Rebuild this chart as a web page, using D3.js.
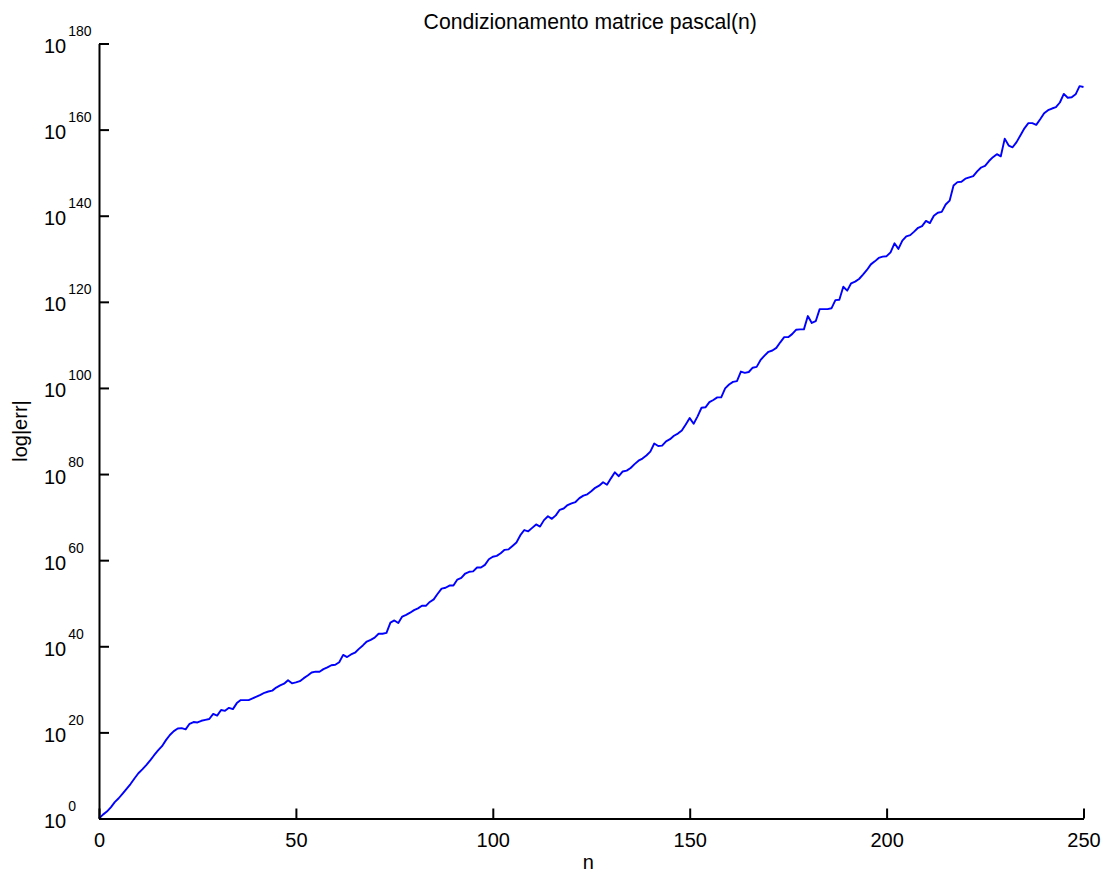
<!DOCTYPE html>
<html>
<head>
<meta charset="utf-8">
<script src="https://cdn.jsdelivr.net/npm/d3@7"></script>
<style>
  html, body { margin: 0; padding: 0; background: #fff; }
  svg { display: block; font-family: "Liberation Sans", Arial, sans-serif; }
</style>
</head>
<body>
<svg id="chart" width="1106" height="874"></svg>
<script>
// Matrix order n (0..250) and log10 of the condition number of pascal(n+1)
const orders = d3.range(0, 251);
const log10Cond = [
  0.0, 0.9, 1.6, 2.6, 3.8, 4.7, 5.8, 6.9, 8.0, 9.3,
  10.5, 11.4, 12.4, 13.5, 14.7, 15.8, 16.8, 18.2, 19.4, 20.3,
  20.9, 21.0, 20.7, 22.0, 22.4, 22.3, 22.7, 22.9, 23.1, 24.3,
  23.9, 25.2, 25.0, 25.7, 25.4, 26.8, 27.5, 27.5, 27.5, 27.9,
  28.3, 28.7, 29.2, 29.5, 29.7, 30.4, 30.9, 31.3, 32.1, 31.4,
  31.6, 31.9, 32.6, 33.2, 33.9, 34.1, 34.1, 34.7, 35.1, 35.6,
  35.7, 36.3, 38.0, 37.5, 38.1, 38.5, 39.4, 40.2, 41.1, 41.5,
  42.0, 42.9, 42.9, 43.1, 45.5, 46.0, 45.4, 46.9, 47.3, 47.8,
  48.4, 48.8, 49.4, 49.4, 50.3, 50.9, 52.2, 53.4, 53.6, 54.1,
  54.1, 55.5, 55.9, 56.9, 57.3, 57.4, 58.3, 58.3, 58.9, 60.2,
  60.8, 61.0, 61.6, 62.4, 62.5, 63.3, 64.1, 65.8, 67.0, 66.7,
  67.5, 68.3, 67.8, 69.3, 70.2, 69.6, 70.4, 71.7, 72.0, 72.8,
  73.2, 73.5, 74.4, 75.0, 75.3, 76.0, 76.8, 77.3, 78.1, 77.5,
  79.0, 80.4, 79.5, 80.6, 80.8, 81.4, 82.3, 83.1, 83.6, 84.3,
  85.2, 87.1, 86.5, 86.6, 87.6, 88.1, 88.9, 89.4, 90.1, 91.5,
  93.0, 91.7, 93.4, 95.4, 95.5, 96.7, 97.2, 97.8, 97.8, 99.9,
  100.8, 101.4, 101.6, 103.8, 103.5, 103.7, 104.7, 104.9, 106.5, 107.5,
  108.4, 108.7, 109.3, 110.6, 111.8, 111.8, 112.5, 113.5, 113.6, 113.6,
  116.7, 115.1, 115.5, 118.3, 118.3, 118.3, 118.5, 120.4, 120.5, 123.5,
  122.6, 124.3, 124.7, 125.3, 126.3, 127.4, 128.7, 129.4, 130.2, 130.5,
  130.6, 131.5, 133.6, 132.3, 134.2, 135.2, 135.5, 136.3, 137.2, 137.6,
  138.8, 138.3, 140.0, 140.7, 140.9, 142.6, 143.5, 147.0, 147.8, 147.9,
  148.6, 148.9, 149.2, 150.3, 151.2, 151.6, 152.7, 153.6, 154.3, 153.8,
  157.9, 156.3, 155.9, 157.1, 158.7, 160.3, 161.5, 161.5, 161.1, 162.4,
  163.8, 164.5, 164.9, 165.2, 166.3, 168.3, 167.4, 167.5, 168.2, 170.1,
  169.9
];
const xTicks = [0, 50, 100, 150, 200, 250];
const yTickExponents = [0, 20, 40, 60, 80, 100, 120, 140, 160, 180];

const titleText = "Condizionamento matrice pascal(n)";
const xLabelText = "n";
const yLabelText = "log|err|";

const svg = d3.select("#chart");
const plotLeft = 99, plotRight = 1083.5, plotTop = 43.5, plotBottom = 818.5;

const x = d3.scaleLinear().domain([0, 250]).range([plotLeft, plotRight]);
const y = d3.scaleLog().domain([1e0, 1e180]).range([plotBottom, plotTop]);

const points = orders.map((n, i) => ({ n, c: Math.pow(10, log10Cond[i]) }));

// Curve
svg.append("path")
  .datum(points)
  .attr("fill", "none")
  .attr("stroke", "#0000ff")
  .attr("stroke-width", 1.9)
  .attr("stroke-linejoin", "round")
  .attr("d", d3.line().x(d => x(d.n)).y(d => y(d.c)));

// X axis: ticks pointing up into the plot
const xAxis = svg.append("g")
  .attr("transform", `translate(0,${plotBottom})`)
  .call(d3.axisBottom(x).tickValues(xTicks).tickSizeInner(-10).tickSizeOuter(0).tickPadding(14));
xAxis.select(".domain").attr("stroke", "#000").attr("stroke-width", 2);
xAxis.selectAll(".tick line").attr("stroke", "#000").attr("stroke-width", 2);
xAxis.selectAll(".tick text")
  .attr("font-size", 20)
  .attr("font-family", "Liberation Sans, Arial, sans-serif")
  .attr("fill", "#000");

// Y axis: ticks pointing right into the plot, labels as powers of ten
const yTickVals = yTickExponents.map(e => Math.pow(10, e));
const yAxis = svg.append("g")
  .attr("transform", `translate(${plotLeft},0)`)
  .call(d3.axisRight(y).tickValues(yTickVals).tickSizeInner(10).tickSizeOuter(0).tickFormat(""));
yAxis.select(".domain").attr("stroke", "#000").attr("stroke-width", 2);
yAxis.selectAll(".tick line").attr("stroke", "#000").attr("stroke-width", 2);

const yLabels = svg.append("g")
  .attr("font-family", "Liberation Sans, Arial, sans-serif")
  .attr("fill", "#000");
yTickExponents.forEach(e => {
  const ty = y(Math.pow(10, e));
  const t = yLabels.append("text").attr("x", 44).attr("y", ty + 9.5);
  t.append("tspan").attr("font-size", 20).text("10");
  t.append("tspan").attr("font-size", 14).attr("dx", 2).attr("dy", -17).text(e);
});

// Title and axis labels
svg.append("text")
  .attr("x", (plotLeft + plotRight) / 2 - 1)
  .attr("y", 29)
  .attr("text-anchor", "middle")
  .attr("font-size", 21.2)
  .text(titleText);

svg.append("text")
  .attr("x", (plotLeft + plotRight) / 2 - 3)
  .attr("y", 869)
  .attr("text-anchor", "middle")
  .attr("font-size", 20)
  .text(xLabelText);

svg.append("text")
  .attr("transform", `translate(27,${(plotTop + plotBottom) / 2}) rotate(-90)`)
  .attr("text-anchor", "middle")
  .attr("font-size", 20)
  .text(yLabelText);
</script>
</body>
</html>
